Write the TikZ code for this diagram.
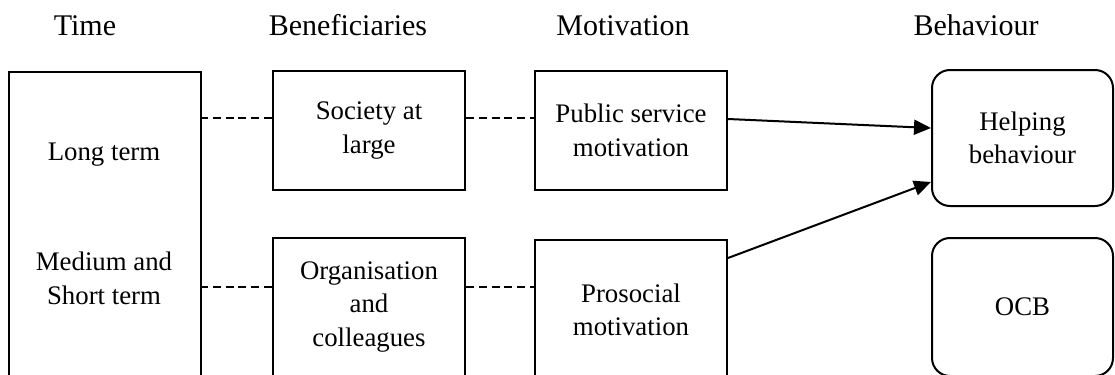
\documentclass[tikz,border=0pt]{standalone}
\usepackage{fontspec}
\setmainfont{Liberation Serif}
\usetikzlibrary{arrows.meta}
\tikzset{
  box/.style={draw, line width=1pt, minimum width=96pt, inner sep=0pt, align=center,
    font=\fontsize{13.4}{16.8}\selectfont},
  rbox/.style={box, rounded corners=9pt, minimum width=90.5pt},
  txt/.style={inner sep=0pt, align=center, font=\fontsize{13.4}{17}\selectfont},
  head/.style={inner sep=0pt, anchor=base, font=\fontsize{15}{18}\selectfont},
  dashline/.style={line width=1pt, dash pattern=on 4pt off 2.4pt},
  arr/.style={line width=1pt, -{Triangle[length=8.5pt,width=7.5pt]}}
}
\begin{document}
\begin{tikzpicture}[x=0.5pt,y=-0.5pt]
\useasboundingbox (0,0) rectangle (1115,375);
\clip (0,0) rectangle (1115,375);
% headers
\node[head] (hTime) at (85,35) {Time};
\node[head] (hBen) at (348,35) {Beneficiaries};
\node[head] (hMot) at (623,35) {Motivation};
\node[head] (hBeh) at (976,35) {Behaviour};
% time box
\node[box, minimum height=159pt] (time) at (105,231) {};
\node[txt, anchor=base] (long) at (104,160) {Long term};
\node[txt] (medium) at (104,278) {Medium and\\Short term};
% beneficiaries
\node[box, minimum height=59.5pt] (soc) at (369,130.5) {Society at\\large};
\node[box, minimum height=69pt] (org) at (369,307) {Organisation\\and\\colleagues};
% motivation
\node[box, minimum height=59.5pt] (psm) at (631,130.5) {Public service\\motivation};
\node[box, minimum height=70pt] (pro) at (631,310) {Prosocial\\motivation};
% behaviour
\node[rbox, minimum height=68pt] (help) at (1022.5,138) {Helping\\behaviour};
\node[rbox, minimum height=69pt] (ocb) at (1022.5,307) {OCB};
% dashed connectors
\draw[dashline] ([yshift=6.25pt]soc.west) coordinate (d1) -- (d1 -| time.east);
\draw[dashline] ([yshift=6.25pt]soc.east) -- ([yshift=6.25pt]psm.west);
\draw[dashline] ([yshift=10pt]org.west) coordinate (d2) -- (d2 -| time.east);
\draw[dashline] ([yshift=10pt]org.east) coordinate (d3) -- (d3 -| pro.west);
% arrows
\draw[arr] ([yshift=5.75pt]psm.east) -- ([yshift=5pt]help.west);
\draw[arr] ([yshift=26pt]pro.east) -- ([yshift=-22pt]help.west);
\end{tikzpicture}
\end{document}
